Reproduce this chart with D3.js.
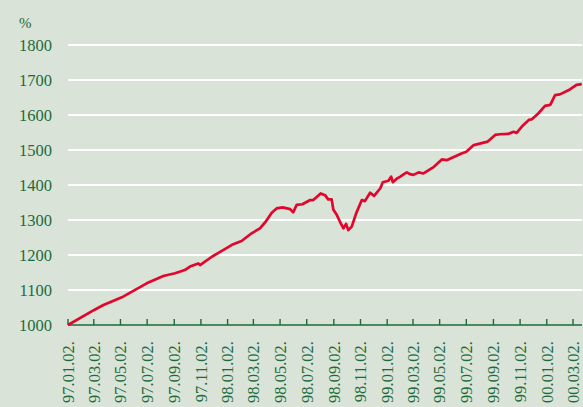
<!DOCTYPE html>
<html>
<head>
<meta charset="utf-8">
<script src="https://d3js.org/d3.v7.min.js"></script>
<style>
  body { margin: 0; background: #d9e3d8; }
  svg { display: block; }
</style>
</head>
<body>
<svg id="chart" width="583" height="407"></svg>
<script>
// values (index level, 1997.01.02 = 1000)
var dates = ['1997-01-02','1997-03-03','1997-03-24','1997-05-08','1997-07-01','1997-08-08','1997-09-04','1997-09-26',
  '1997-10-08','1997-10-27','1997-10-31','1997-11-27','1997-12-16','1998-01-12','1998-02-03','1998-02-26','1998-03-17',
  '1998-03-30','1998-04-13','1998-04-24','1998-05-08','1998-05-25','1998-06-01','1998-06-09','1998-06-22','1998-07-10',
  '1998-07-17','1998-08-03','1998-08-13','1998-08-20','1998-08-28','1998-09-01','1998-09-09','1998-09-16','1998-09-24',
  '1998-09-30','1998-10-05','1998-10-13','1998-10-23','1998-11-05','1998-11-12','1998-11-24','1998-12-03','1998-12-17',
  '1998-12-23','1999-01-05','1999-01-11','1999-01-15','1999-01-25','1999-02-01','1999-02-12','1999-02-16','1999-02-23',
  '1999-03-03','1999-03-15','1999-03-26','1999-04-19','1999-05-07','1999-05-18','1999-06-21','1999-07-02','1999-07-19',
  '1999-08-20','1999-09-06','1999-09-17','1999-10-06','1999-10-18','1999-10-25','1999-11-09','1999-11-22','1999-11-29',
  '1999-12-14','1999-12-29','2000-01-10','2000-01-21','2000-02-01','2000-02-24','2000-03-10','2000-03-22'];
var values = [1000,1043,1057,1081,1119,1140,1148,1157,
  1167,1176,1171,1195,1209,1229,1240,1262,1276,
  1295,1321,1333,1336,1331,1322,1343,1345,1357,
  1357,1376,1371,1359,1359,1329,1314,1295,1276,
  1289,1271,1281,1319,1357,1354,1378,1369,1390,
  1408,1412,1424,1408,1419,1424,1433,1436,1431,
  1429,1436,1433,1452,1473,1471,1490,1495,1514,
  1524,1543,1545,1546,1552,1549,1571,1586,1588,
  1605,1626,1629,1657,1659,1673,1686,1688];
var yTicks = [1000,1100,1200,1300,1400,1500,1600,1700,1800];
var xTicks = ['1997-01-02','1997-03-02','1997-05-02','1997-07-02','1997-09-02','1997-11-02','1998-01-02','1998-03-02',
  '1998-05-02','1998-07-02','1998-09-02','1998-11-02','1999-01-02','1999-03-02','1999-05-02','1999-07-02',
  '1999-09-02','1999-11-02','2000-01-02','2000-03-02'];

var parse = d3.timeParse('%Y-%m-%d');
var data = dates.map(function(d, i) { return { date: parse(d), value: values[i] }; });
var green = '#1c6b3a';
var serif = "'Liberation Serif', 'Times New Roman', serif";

var svg = d3.select('#chart');
svg.append('rect').attr('width', 583).attr('height', 407).attr('fill', '#d9e3d8');

var xs = d3.scaleTime().domain([parse('1997-01-02'), parse('2000-03-02')]).range([68, 573]);
var ys = d3.scaleLinear().domain([1000, 1800]).range([325, 45]);
var xEnd = 582;

// gridlines
svg.append('g').selectAll('line')
  .data(yTicks.slice(1))
  .enter().append('line')
    .attr('x1', 68).attr('x2', xEnd)
    .attr('y1', function(d) { return ys(d); })
    .attr('y2', function(d) { return ys(d); })
    .attr('stroke', '#ffffff').attr('stroke-width', 2);

// y labels
svg.append('g').selectAll('text')
  .data(yTicks)
  .enter().append('text')
    .attr('x', 52).attr('y', function(d) { return ys(d); })
    .attr('dy', '0.36em')
    .attr('text-anchor', 'end')
    .attr('font-family', serif)
    .attr('font-size', 16.5)
    .attr('fill', green)
    .text(function(d) { return d; });

svg.append('text')
  .attr('x', 19).attr('y', 28)
  .attr('font-family', serif)
  .attr('font-size', 15)
  .attr('fill', green)
  .text('%');

// x axis line + ticks pointing up
svg.append('line')
  .attr('x1', 68).attr('x2', xEnd).attr('y1', 325).attr('y2', 325)
  .attr('stroke', green).attr('stroke-width', 1.6);

var fmt = d3.timeFormat('%y.%m.%d.');
svg.append('g').selectAll('line')
  .data(xTicks.map(parse))
  .enter().append('line')
    .attr('x1', function(d) { return xs(d); }).attr('x2', function(d) { return xs(d); })
    .attr('y1', 319).attr('y2', 325)
    .attr('stroke', green).attr('stroke-width', 1.4);

svg.append('g').selectAll('text')
  .data(xTicks.map(parse))
  .enter().append('text')
    .attr('transform', function(d) { return 'translate(' + xs(d) + ',341) rotate(-90)'; })
    .attr('dy', '0.35em')
    .attr('text-anchor', 'end')
    .attr('font-family', serif)
    .attr('font-size', 16.5)
    .attr('fill', green)
    .text(function(d) { return fmt(d); });

// the series
var line = d3.line()
  .x(function(d) { return xs(d.date); })
  .y(function(d) { return ys(d.value); });

svg.append('path')
  .datum(data)
  .attr('d', line)
  .attr('fill', 'none')
  .attr('stroke', '#e2062c')
  .attr('stroke-width', 2.7)
  .attr('stroke-linejoin', 'round');
</script>
</body>
</html>
